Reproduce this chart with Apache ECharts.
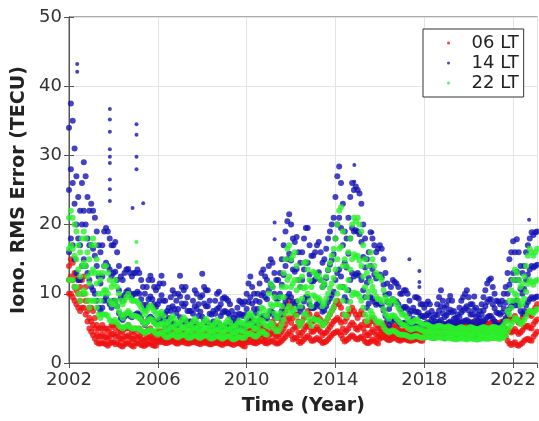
<!DOCTYPE html>
<html>
<head>
<meta charset="utf-8">
<script src="https://cdn.jsdelivr.net/npm/echarts@6/dist/echarts.min.js"></script>
<style>
html, body { margin: 0; padding: 0; background: #fff; }
#chart { width: 539px; height: 421px; }
</style>
</head>
<body>
<div id="chart"></div>
<script>
var startYear = 2002;
var xTicks = [2002, 2006, 2010, 2014, 2018, 2022];

// 06 LT
var red06Lo = [
    10,10,9.5,9,8.5,8,7.5,8,8,7,6,5,
    4.5,4,3.5,3,2.8,2.8,3,2.8,2.7,2.5,2.8,3,
    3,2.7,3,2.7,2.5,2.4,2.7,2.8,3,2.7,2.5,2.4,
    2.9,2.8,2.9,2.6,2.5,2.5,2.7,2.8,2.9,2.6,2.5,2.5,
    3.1,3.0,3.2,3.0,2.9,2.9,3.0,3.1,3.2,3.0,2.8,2.8,
    3.1,3.0,3.1,2.9,2.8,2.8,3.0,3.0,3.1,2.9,2.8,2.7,
    3.0,2.9,3.0,2.8,2.7,2.7,2.9,2.9,3.0,2.8,2.7,2.6,
    2.9,2.8,2.9,2.8,2.7,2.6,2.8,2.8,2.9,2.7,2.5,2.4,
    3.0,3.0,3.2,3.0,2.9,2.8,3.0,3.1,3.3,3.1,2.9,2.8,
    3.0,3.1,3.3,3.0,2.8,2.8,3.0,3.2,3.5,3.8,4.2,4.5,
    4.0,3.4,3.6,3.6,3.1,2.9,3.1,3.4,3.7,3.9,3.6,3.2,
    3.2,3.4,3.6,3.4,3.2,2.9,3.0,3.1,3.4,3.7,4.0,4.3,
    4.4,4.6,4.4,4.0,3.5,3.1,3.3,3.5,3.8,4.0,3.8,3.5,
    3.4,3.6,3.8,3.5,3.1,2.9,2.9,3.1,3.4,3.2,3.0,2.8,
    3.5,3.7,3.8,3.6,3.4,3.3,3.4,3.6,3.7,3.5,3.3,3.2,
    3.4,3.4,3.5,3.3,3.2,3.2,3.3,3.4,3.5,3.4,3.2,3.2,
    3.7,3.8,4.0,4.0,3.9,4.0,4.2,4.3,4.3,4.2,4.1,4.2,
    4.3,4.4,4.5,4.3,4.2,4.3,4.5,4.6,4.5,4.3,4.2,4.3,
    4.4,4.5,4.6,4.4,4.3,4.4,4.6,4.7,4.6,4.4,4.3,4.4,
    4.5,4.6,4.6,4.4,4.3,4.4,4.4,4.2,3.8,3.2,2.8,2.6,
    2.8,3.0,2.6,2.5,2.7,2.9,3.2,3.4,3.5,3.3,3.2,3.8,
    4.2,4.5
];
var red06Mid = [
    12,12.5,12,11,10.5,10,9,10,10,9,7.5,6.5,
    6,5.5,5,4.2,3.8,3.8,4.2,3.8,3.7,3.5,3.8,4.2,
    4.2,3.8,4.2,3.8,3.5,3.4,3.8,3.8,4,3.8,3.5,3.4,
    3.9,3.7,3.9,3.5,3.3,3.3,3.6,3.7,3.8,3.5,3.3,3.3,
    3.8,3.6,3.8,3.6,3.4,3.4,3.6,3.7,3.8,3.6,3.4,3.3,
    3.7,3.6,3.7,3.5,3.4,3.3,3.5,3.6,3.7,3.5,3.3,3.3,
    3.6,3.5,3.6,3.4,3.3,3.3,3.4,3.5,3.6,3.4,3.2,3.2,
    3.5,3.4,3.5,3.4,3.2,3.2,3.4,3.4,3.5,3.3,3.1,3.0,
    3.7,3.8,4.0,3.8,3.6,3.5,3.8,4.0,4.2,4.0,3.7,3.6,
    4.0,4.2,4.5,4.2,3.8,3.8,4.2,4.5,5.0,5.5,6.2,6.5,
    5.8,4.8,5.2,5.2,4.4,4.0,4.4,4.8,5.2,5.5,5.2,4.5,
    4.5,4.8,5.2,4.8,4.5,4.0,4.3,4.4,4.8,5.2,5.6,6.0,
    6.2,6.5,6.2,5.8,5.0,4.4,4.7,5.0,5.5,5.8,5.5,5.0,
    4.8,5.2,5.5,5.0,4.4,4.0,4.0,4.4,4.8,4.5,4.1,3.8,
    4.2,4.5,4.6,4.4,4.1,4.0,4.1,4.3,4.5,4.3,4.0,3.9,
    4.0,4.0,4.2,3.9,3.8,3.7,3.9,4.0,4.2,4.0,3.8,3.7,
    4.4,4.5,4.7,4.7,4.6,4.7,4.9,5.0,5.0,4.9,4.8,4.9,
    5.0,5.1,5.2,5.0,4.9,5.0,5.2,5.3,5.2,5.0,4.9,5.0,
    5.1,5.2,5.3,5.1,5.0,5.1,5.3,5.4,5.3,5.1,5.0,5.1,
    5.2,5.3,5.3,5.1,5.0,5.1,5.2,5.1,5.0,4.8,4.6,4.4,
    4.6,4.9,4.5,4.2,4.4,4.7,5.1,5.3,5.4,5.1,5.0,5.6,
    6.0,6.3
];
var red06Hi = [
    14,15,14.5,13,12.5,12,11,12,12.5,11,9,8,
    8,7.5,6.5,5.5,5,5,5.5,5,5,4.5,5,5.5,
    5.5,5,5.5,5,4.5,4.5,5,5,5.5,5,4.5,4.5,
    5,4.8,5,4.5,4.3,4.3,4.6,4.8,5,4.5,4.2,4.3,
    4.6,4.4,4.6,4.3,4.1,4.0,4.3,4.4,4.5,4.3,4.1,4.0,
    4.4,4.3,4.5,4.2,4.0,3.9,4.2,4.3,4.4,4.2,4.0,3.9,
    4.3,4.2,4.4,4.1,3.9,3.9,4.1,4.2,4.3,4.1,3.9,3.8,
    4.2,4.1,4.3,4.0,3.9,3.8,4.0,4.1,4.2,4.0,3.8,3.8,
    4.5,4.6,5.0,4.8,4.5,4.4,4.8,5.0,5.3,5.0,4.6,4.5,
    5.2,5.5,6.0,5.5,5.0,5.0,5.5,6.0,6.8,7.5,8.5,9.0,
    8.0,6.5,7.0,7.0,6.0,5.5,6.0,6.5,7.0,7.5,7.0,6.0,
    6.0,6.5,7.0,6.5,6.2,5.5,5.8,6.0,6.5,7.0,7.5,8.0,
    8.5,9.0,8.5,8.0,7.0,6.0,6.5,7.0,7.5,8.0,7.5,7.0,
    6.5,7.0,7.5,7.0,6.0,5.5,5.5,6.0,6.5,6.0,5.5,5.0,
    5.0,5.5,5.7,5.3,5.0,4.8,5.0,5.3,5.5,5.2,4.8,4.6,
    4.6,4.6,4.8,4.5,4.4,4.3,4.5,4.6,4.8,4.6,4.4,4.3,
    5.0,5.2,5.4,5.3,5.2,5.3,5.5,5.6,5.6,5.5,5.4,5.5,
    5.6,5.7,5.8,5.6,5.5,5.6,5.8,5.9,5.8,5.6,5.5,5.6,
    5.7,5.8,5.9,5.7,5.6,5.7,5.9,6.0,5.9,5.7,5.6,5.7,
    5.8,5.9,6.0,5.8,5.7,5.8,6.0,6.0,6.2,6.5,6.4,6.2,
    6.4,6.8,6.2,5.8,6.0,6.5,7.0,7.2,7.4,7.0,6.8,7.5,
    8.0,8.5
];

// 14 LT
var blue14Lo = [
    16,18,17,15,13,12,12,14,15,14,13,12,
    11,10.5,10,9,8,7.5,8,9,9.5,9,8.5,8,
    9,9,8.2,7.2,6.5,6.2,6.7,7,7.2,6.8,6.6,6.8,
    7,7.2,7,6.4,5.9,5.5,5.9,6.4,6.7,6.4,6,5.7,
    6,6.3,6.8,6.2,5.2,3.8,4.6,5.4,5.8,5.6,5.2,5.5,
    6.6,6.1,5.8,6.1,5.4,3.7,4.3,5.1,5.8,5.6,4.9,5.3,
    6.7,6.1,5.8,5.8,5.1,3.6,4.2,5.1,5.5,5.7,4.9,5.2,
    5.4,5.4,5.3,5,4.6,3.6,4.2,4.8,5.2,5.1,5,5.1,
    5.6,6.1,6.5,6.2,5.6,5.4,5.6,6.1,6.6,6.8,6.5,6.4,
    7,7.5,7.3,6.8,6.5,6.5,6.8,7.5,8.3,9,9.6,10,
    9.5,8.8,8.6,8.9,8,7.4,8,8.9,9.5,9.5,8.5,7.9,
    7.9,8.1,8.5,8.7,8.1,7.4,7.6,8.2,8.8,9.3,9.8,10.3,
    12,13,13.5,12.5,11,9.5,9,10.5,12,13,12.5,12.8,
    13,12.6,12,10.5,9.5,8,8.6,9.5,9.3,8.8,8.4,8.6,
    8.6,8.3,7.6,6.8,6.1,5.5,6,6.4,6.3,6.2,6,5.6,
    5.6,5.8,5.8,5.6,5.2,3.8,4.8,5.3,5.3,5.2,5,5,
    5.6,5.7,5.9,5.7,5.4,3.6,5.2,5.7,6,6.2,5.7,3.6,
    5.6,5.8,6,5.8,5.4,3.6,5.3,5.6,5.8,6,6.1,6.2,
    6,5.7,5.7,6,3.7,5.4,5.5,5.7,6,6.3,6.6,6.8,
    6.8,6.4,6,5.6,5.5,5.4,5.6,6,6.5,7.2,7.8,8.2,
    8.8,8.3,9,8.3,7.5,7.1,7.5,8.3,8.8,9.2,9.5,9.3,
    9.5,9.6
];
var blue14Mid = [
    25,28,26,23,20,18,17,20,22,20,18,17,
    17,16.5,15.5,14,12.5,11.5,12.5,14,14.5,14,13.5,12.5,
    13,13.2,12,10.5,9.5,9,9.8,10.3,10.5,10,9.7,10,
    10,10.3,10,9.2,8.4,7.8,8.4,9.2,9.6,9.2,8.5,8.1,
    8.5,9,9.8,9,7.2,6.2,6.5,7.5,8.2,7.8,7.2,7.8,
    9.6,8.6,8.2,8.6,7.5,6,6,7.1,8.2,7.8,6.8,7.4,
    9.8,8.6,8.2,8.2,7.1,5.6,6,7.1,7.8,8,6.8,7.3,
    7.5,7.4,7.2,6.8,6,5.3,5.7,6.4,7.1,7,6.8,7,
    7.8,8.8,9.5,8.6,7.8,7.2,7.8,8.8,9.8,10.1,9.5,9.2,
    10.5,11.3,11,10,9.3,9.3,10,11.3,12.7,14,15,15.8,
    14.8,13.5,13.2,13.6,12,11,12,13.5,14.5,14.5,12.8,11.8,
    11.8,12.1,12.8,13.1,12,11,11.3,12.3,13.4,14.2,14.9,15.7,
    18,20,21,19.5,17,14.5,13.8,15.8,18,19.5,19,19.2,
    19,18.6,17.5,15.3,13.8,11.6,12.3,14,13.6,12.8,12.2,12.5,
    12.8,12.4,11.3,9.9,8.8,7.8,8.5,9.2,9,8.9,8.5,7.8,
    7.8,8.1,8.1,7.8,7.1,6,6.4,7.4,7.4,7.3,6.8,6.8,
    6.6,6.9,7.2,6.9,6.2,5.6,6,6.9,7.6,8.2,7.2,6.6,
    6.9,7.3,7.7,7.3,6.4,5.8,6.1,6.7,7.3,7.6,7.9,8.2,
    7.6,7,7,7.7,6.7,6.1,6.4,7,7.6,8.2,8.8,9.2,
    9.2,8.5,7.9,7.3,7.2,7,7.3,7.9,8.7,10,11.3,12,
    13,12,13.2,12,10.7,10,10.7,12,12.8,13.5,14,13.8,
    14,14.2
];
var blue14Hi = [
    34,37.5,35,31,27,24,22,26,29,27,24,22,
    23,22,21,19,17,16,17,19,19.5,19,18,17,
    17,17.5,16,14,12.5,12,13,13.5,13.6,13,12.5,13,
    13,13.5,13,12,11,10,11,12,12.6,12,11,10.5,
    11,11.5,12.6,11.5,9,7.5,8,9.5,10.5,10,9,10,
    12.6,11,10.5,11,9.5,7.5,7.5,9,10.5,10,8.5,9.5,
    12.9,11,10.5,10.5,9,7,7.5,9,10,10.3,8.5,9.3,
    9.5,9.3,9,8.5,7.5,6.5,7,8,9,8.8,8.5,8.9,
    10,11.5,12.5,11,10,9,10,11.5,13,13.5,12.5,12,
    14,15,14.5,13,12,12,13,15,17,19,20.5,21.5,
    20,18,17.5,18.2,16,14.5,16,18,19.5,19.5,17,15.5,
    15.5,16,17,17.5,16,14.5,15,16.5,18,19,20,21,
    24,27,28.4,26,23,19,18,21,24,26,25,25.5,
    25,24.5,23,20,18,15,16,18.9,18,17,16,16.5,
    17,16.5,15,13,11.5,10,11,12,11.7,11.5,11,10,
    10,10.5,10.5,10,9,7.5,8,9.5,9.5,9.3,8.5,8.5,
    8,8.5,8.9,8.5,7.5,6.5,7,8.5,9.5,10.5,9,8,
    8.3,9,9.7,9,7.5,6.5,7,8,9,9.5,10,10.5,
    9.5,8.5,8.5,9.6,8,7,7.5,8.5,9.5,10.5,11.5,12,
    12.2,11,10,9,8.9,8.5,9,10,11,13,15,16,
    17.6,16,17.9,16,14,13,14,16,17,18,18.9,18.5,
    18.9,19
];
// isolated 14 LT points
var blueOutlierYear = [2002.37, 2002.37, 2003.84, 2003.84, 2003.84, 2003.84, 2003.84, 2003.84, 2003.84, 2003.84, 2003.84,
    2004.86, 2005.04, 2005.04, 2005.04, 2005.04, 2005.34, 2011.26, 2011.26, 2014.85, 2014.85, 2015.66,
    2017.33, 2017.78, 2017.78, 2017.78, 2022.72];
var blueOutlierTECU = [43.2, 42.1, 36.7, 35.2, 33.4, 30.9, 29.8, 28.9, 26.5, 25.1, 23.4,
    22.4, 34.5, 33, 29.8, 28, 23.1, 20.3, 17.9, 28.6, 26.2, 18.9,
    15, 13.3, 11.7, 11, 20.7];

// 22 LT
var green22Lo = [
    12,12,12,11,11,10,9,10,10.5,10,9,8,
    9,9,9,8,7,6.5,7,7,7,6.8,6.2,6,
    6,6.2,5.8,5.4,5.2,5,5.2,5.3,5.5,5.2,5,5,
    5,5,4.9,4.7,4.5,4.3,4.5,4.7,4.8,4.7,4.5,4.3,
    4.1,4.3,4.4,4.1,3.8,3.7,3.8,4.0,4.2,4.0,3.8,3.7,
    3.9,4.0,4.1,4.0,3.7,3.6,3.7,3.9,4.0,3.9,3.7,3.6,
    3.8,3.9,4.0,3.9,3.6,3.5,3.6,3.8,3.9,3.8,3.6,3.5,
    3.7,3.8,3.9,3.8,3.5,3.4,3.5,3.7,3.8,3.7,3.6,3.7,
    4.1,4.2,4.3,4.1,3.9,3.8,4.0,4.3,4.6,4.5,4.2,4.1,
    5.2,5.8,5.6,5.0,4.6,4.6,5.0,5.6,6.3,7.2,7.8,8.2,
    7.2,7.5,7.8,6.8,5.8,5.3,6,7,7.2,6.6,6,5.4,
    6.4,6.3,6.1,6.2,5.9,5.4,5.6,6.1,6.6,7.1,7.6,8.1,
    9,10,11,11,9,7,6.8,7.8,8.8,9.8,10.2,10,
    10,9.6,9,8,7,6,6.6,7.5,7,6.5,6.1,5.8,
    6,5.7,5.2,4.8,4.6,4.4,4.6,4.7,4.6,4.4,4.2,4.1,
    4.1,4.1,4,3.9,3.8,3.7,3.8,3.9,3.9,3.8,3.7,3.6,
    3.8,3.8,3.8,3.7,3.6,3.6,3.6,3.7,3.7,3.7,3.6,3.5,
    3.6,3.7,3.6,3.5,3.5,3.4,3.5,3.5,3.6,3.5,3.5,3.4,
    3.5,3.6,3.5,3.5,3.4,3.4,3.5,3.5,3.6,3.5,3.5,3.5,
    3.6,3.6,3.6,3.6,3.5,3.5,3.6,3.7,4,4.6,5.1,5.6,
    6,6.5,6.4,6,5.6,5.8,6.2,6.7,7.3,7.6,7.4,7.2,
    7.5,7.8
];
var green22Mid = [
    16.5,17,16.5,15.5,15,13.5,12.5,14,14.5,14,12.5,11.5,
    13,13.5,13,11.5,10,9,10,10.5,10.5,10,9,8.5,
    8.5,9,8.2,7.5,7,6.5,7,7.2,7.5,7.2,6.8,6.8,
    6.8,6.7,6.5,6.2,5.9,5.6,5.9,6.2,6.4,6.2,5.8,5.6,
    5.2,5.6,5.7,5.3,4.8,4.6,4.8,5.1,5.3,5.1,4.7,4.6,
    4.8,5.0,5.2,5.0,4.6,4.4,4.6,4.8,5.1,4.9,4.5,4.4,
    4.7,4.9,5.1,4.9,4.5,4.3,4.5,4.7,5.0,4.8,4.4,4.3,
    4.6,4.8,5.0,4.8,4.4,4.2,4.4,4.6,4.9,4.7,4.5,4.7,
    5.3,5.5,5.7,5.4,5.0,4.9,5.2,5.7,6.2,6.0,5.5,5.4,
    7.5,8.5,8.2,7.2,6.5,6.5,7.2,8.2,9.5,11,12,12.5,
    11,11.5,12,10.5,9,8.2,9.3,10.8,11,10,9,8.2,
    9.8,9.6,9.3,9.4,9,8.2,8.6,9.3,10,10.8,11.5,12.3,
    13.5,15,16.5,16.8,14,11,10.5,12,13.5,15,15.7,15.3,
    15.5,14.8,14,12.5,11,9.5,10.3,11.8,11,10.3,9.6,9.2,
    9.2,8.8,7.8,7.1,6.8,6.4,6.8,6.9,6.8,6.4,6.1,5.8,
    5.5,5.5,5.4,5.1,4.9,4.8,4.9,5,5.1,4.9,4.8,4.7,
    4.6,4.6,4.6,4.5,4.4,4.3,4.4,4.5,4.5,4.4,4.4,4.3,
    4.4,4.5,4.4,4.3,4.2,4.2,4.2,4.3,4.4,4.3,4.2,4.2,
    4.3,4.4,4.3,4.3,4.2,4.2,4.3,4.3,4.4,4.3,4.3,4.3,
    4.4,4.4,4.4,4.3,4.3,4.3,4.4,4.6,5,6,7,8,
    9,10,9.8,9,8.3,8.6,9.3,10.3,11.4,12,11.7,11.3,
    11.8,12
];
var green22Hi = [
    21,22,21,20,19,17,16,18,19,18,16,15,
    17,18,17,15,13,12,13,14,14,13,12,11,
    11.5,12,11,10,9,8.5,9,9.5,10,9.5,9,9,
    9,8.8,8.5,8,7.5,7,7.5,8,8.3,8,7.5,7.2,
    6.5,7.2,7.4,6.8,6,5.6,6,6.4,6.8,6.4,5.8,5.6,
    5.8,6.2,6.6,6.2,5.6,5.3,5.6,6.0,6.4,6.0,5.5,5.3,
    5.6,6.0,6.4,6.0,5.5,5.2,5.5,5.8,6.2,5.8,5.4,5.2,
    5.5,5.9,6.3,5.9,5.4,5.1,5.4,5.7,6.1,5.8,5.5,5.8,
    6.5,6.9,7.2,6.8,6.2,6.0,6.5,7.2,8.0,7.8,7.0,6.8,
    10,11.5,11,9.5,8.5,8.5,9.5,11,13,15,16.5,17,
    15,15.5,16,14,12,11,12.5,14.5,14.6,13.5,12,11,
    13.2,13,12.5,12.6,12,11,11.5,12.5,13.5,14.5,15.5,16.5,
    18,20,22,22.5,19,15,14,16,18,20,21,20.5,
    21,20,19,17,15,13,14,16,15,14,13,12.5,
    12.5,12,10.5,9.5,9,8.5,9,9.2,9,8.5,8,7.5,
    7,7,6.8,6.3,6,5.8,6,6.2,6.3,6,5.8,5.6,
    5.5,5.6,5.5,5.3,5.2,5.1,5.2,5.3,5.4,5.3,5.2,5.1,
    5.2,5.3,5.2,5.1,5.0,4.9,5.0,5.1,5.2,5.1,5.0,4.9,
    5.1,5.2,5.1,5.0,4.9,4.9,5.0,5.1,5.2,5.1,5.0,5.0,
    5.1,5.2,5.2,5.1,5.0,5.0,5.2,5.5,6,7.5,9,10.5,
    12,13.5,13,12,11,11.5,12.5,14,15.5,16.5,16,15.5,
    16,16.5
];
var greenOutlierYear = [2005.04, 2005.04];
var greenOutlierTECU = [17.5, 14.6];

function bandPoints(lo, mid, hi) {
    var pts = [];
    for (var i = 0; i < hi.length; i++) {
        var t = i / 12;
        pts.push([t, lo[i]], [t, mid[i]], [t, hi[i]]);
    }
    return pts;
}
function extraPoints(years, vals) {
    var pts = [];
    for (var i = 0; i < years.length; i++) pts.push([years[i] - startYear, vals[i]]);
    return pts;
}

var redColor = '#ee1111';
var blueColor = '#1414b4';
var greenColor = '#2bf02b';
var axisColor = '#555';

var chart = echarts.init(document.getElementById('chart'));
var option = {
    animation: false,
    textStyle: { fontFamily: 'DejaVu Sans' },
    grid: { left: 69, top: 17, right: 1, bottom: 56, show: true, borderColor: axisColor, borderWidth: 1 },
    legend: {
        orient: 'vertical',
        left: 423,
        top: 29,
        padding: [4, 5, 4, 24],
        itemGap: 0,
        itemWidth: 36,
        itemHeight: 3,
        icon: 'circle',
        borderColor: '#333',
        borderWidth: 1,
        backgroundColor: '#fff',
        textStyle: { fontSize: 18, color: '#222', lineHeight: 20, fontFamily: 'DejaVu Sans' },
        data: ['06 LT', '14 LT', '22 LT']
    },
    xAxis: [
        {
            type: 'value',
            min: 0,
            max: 21.1,
            interval: 4,
            name: 'Time (Year)',
            nameLocation: 'middle',
            nameGap: 34,
            nameTextStyle: { fontSize: 19, fontWeight: 'bold', color: '#222' },
            axisLine: { show: true, lineStyle: { color: axisColor } },
            axisTick: { inside: true, length: 5, lineStyle: { color: axisColor } },
            axisLabel: {
                fontSize: 18,
                color: '#333',
                margin: 8,
                showMaxLabel: false,
                formatter: function (v) { return xTicks.indexOf(startYear + v) >= 0 ? String(startYear + v) : ''; }
            },
            splitLine: { show: true, lineStyle: { color: '#e4e4e4' } }
        },
        {
            type: 'value',
            position: 'top',
            min: 0,
            max: 21.1,
            interval: 4,
            axisLine: { show: true, lineStyle: { color: axisColor } },
            axisTick: { inside: true, length: 5, lineStyle: { color: axisColor } },
            axisLabel: { show: false },
            splitLine: { show: false }
        }
    ],
    yAxis: [
        {
            type: 'value',
            min: 0,
            max: 50,
            interval: 10,
            name: 'Iono. RMS Error (TECU)',
            nameLocation: 'middle',
            nameGap: 39,
            nameTextStyle: { fontSize: 19, fontWeight: 'bold', color: '#222' },
            axisLine: { show: true, lineStyle: { color: axisColor } },
            axisTick: { inside: true, length: 5, lineStyle: { color: axisColor } },
            axisLabel: { fontSize: 18, color: '#333', margin: 7 },
            splitLine: { show: true, lineStyle: { color: '#e4e4e4' } }
        },
        {
            type: 'value',
            position: 'right',
            min: 0,
            max: 50,
            interval: 10,
            axisLine: { show: true, lineStyle: { color: axisColor } },
            axisTick: { inside: true, length: 5, lineStyle: { color: axisColor } },
            axisLabel: { show: false },
            splitLine: { show: false }
        }
    ],
    series: [
        {
            name: '06 LT',
            type: 'scatter',
            symbolSize: 6,
            itemStyle: { color: redColor },
            data: bandPoints(red06Lo, red06Mid, red06Hi)
        },
        {
            name: '14 LT',
            type: 'scatter',
            symbolSize: 6,
            itemStyle: { color: blueColor },
            data: bandPoints(blue14Lo, blue14Mid, blue14Hi)
        },
        {
            name: '14 LT',
            type: 'scatter',
            symbolSize: 4,
            itemStyle: { color: blueColor },
            data: extraPoints(blueOutlierYear, blueOutlierTECU)
        },
        {
            name: '22 LT',
            type: 'scatter',
            symbolSize: 6,
            itemStyle: { color: greenColor },
            data: bandPoints(green22Lo, green22Mid, green22Hi)
        },
        {
            name: '22 LT',
            type: 'scatter',
            symbolSize: 4,
            itemStyle: { color: greenColor },
            data: extraPoints(greenOutlierYear, greenOutlierTECU)
        }
    ]
};
chart.setOption(option);
</script>
</body>
</html>
